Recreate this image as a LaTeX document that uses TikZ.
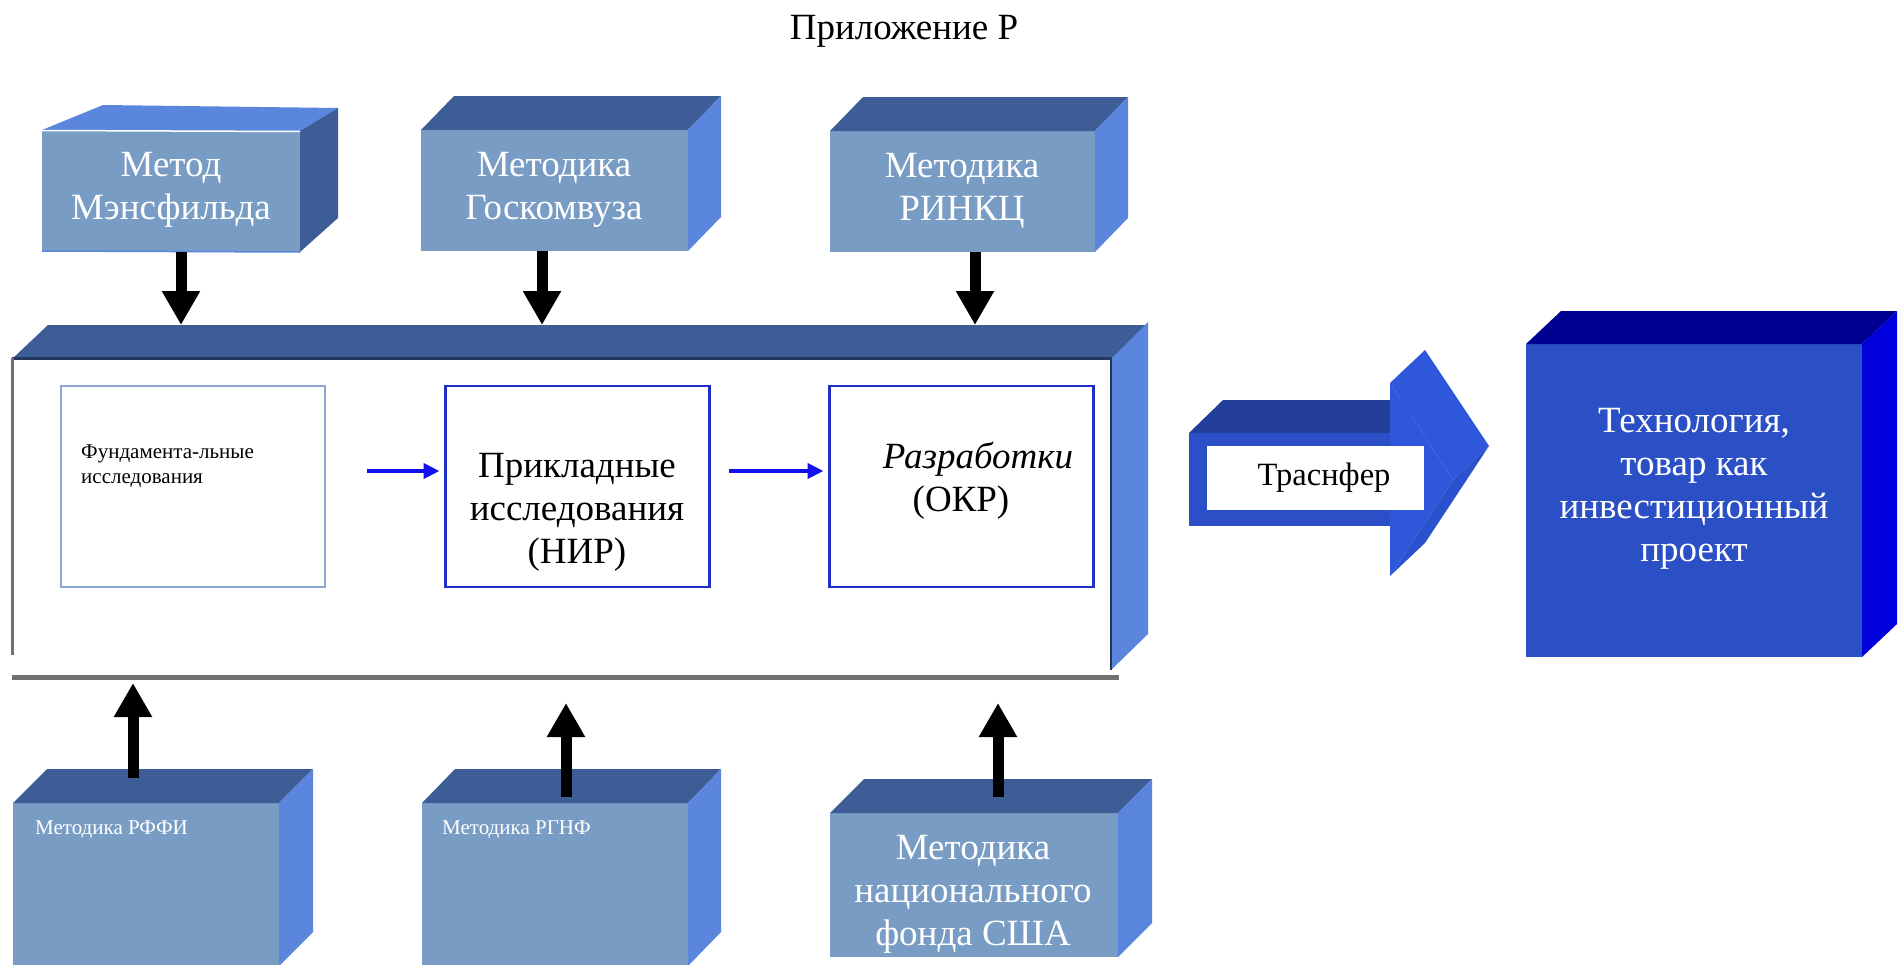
\documentclass[tikz,border=0pt]{standalone}
\usepackage{fontspec}
\setmainfont{Liberation Serif}
\usetikzlibrary{arrows.meta}
\definecolor{fr}{HTML}{789CC4}
\definecolor{tp}{HTML}{3E5D97}
\definecolor{sd}{HTML}{5A86DD}
\definecolor{edgedark}{HTML}{24375F}
\definecolor{framegray}{HTML}{707070}
\definecolor{innerlight}{HTML}{8EA5D6}
\definecolor{innerblue}{HTML}{1F2FC8}
\definecolor{flowblue}{HTML}{1010F0}
\definecolor{trfront}{HTML}{2B4FC6}
\definecolor{trtop}{HTML}{233E9A}
\definecolor{trhead}{HTML}{2E58D9}
\definecolor{trlow}{HTML}{2A52CF}
\definecolor{gfront}{HTML}{2B4FC5}
\definecolor{gtop}{HTML}{000090}
\definecolor{gside}{HTML}{0000DC}
\newcommand\bigf{\fontsize{37}{43}\selectfont}
\newcommand\smallf{\fontsize{21}{25}\selectfont}
\newcommand\cubefaces[5]{%
  \fill[#4] (#1.north west) -- ++(#2,-#3) -- ([shift={(#2,-#3)}]#1.north east) -- (#1.north east) -- cycle;
  \fill[#5] (#1.north east) -- ([shift={(#2,-#3)}]#1.north east) -- ([shift={(#2,-#3)}]#1.south east) -- (#1.south east) -- cycle;
}
\tikzset{
  frontbox/.style={fill=fr, inner sep=0pt, outer sep=0pt},
  whitetext/.style={text=white, font=\bigf, align=center, inner sep=0pt},
  blacktext/.style={text=black, font=\bigf, align=center, inner sep=0pt},
  innerbox/.style={fill=white, line width=2.5pt, inner sep=0pt, outer sep=0pt, minimum width=264pt, minimum height=201pt},
  blk/.style={line width=11pt, -{Triangle[length=34pt,width=36pt]}},
  flow/.style={flowblue, line width=4.5pt, -{Triangle[length=16pt,width=15pt]}},
}
\begin{document}
\begin{tikzpicture}[x=1pt,y=-1pt]
\useasboundingbox (0,0) rectangle (1903,964);
\clip (0,0) rectangle (1903,964);

% title
\node[font=\fontsize{37}{43}\selectfont, inner sep=0pt] (title) at (904,31) {Приложение Р};

% ---- top boxes
\node[frontbox, minimum width=258pt, minimum height=122pt] (boxA) at (171,191) {};
\fill[sd] (42,130) -- (103,105) -- (338,108) -- (300,131) -- cycle;
\fill[tp] (300,131) -- (338,108) -- (338,218) -- (300,252) -- cycle;
\draw[white, line width=1.5pt] (42,130.5) -- (300,131.5);
\draw[sd, line width=1.5pt] (42,251) -- (300,252);
\node[whitetext] (tA) at (171,190) {Метод\\Мэнсфильда};

\node[frontbox, minimum width=267pt, minimum height=121pt] (boxB) at (554.5,190.5) {};
\cubefaces{boxB}{33}{34}{tp}{sd}
\node[whitetext] (tB) at (554,190) {Методика\\Госкомвуза};

\node[frontbox, minimum width=265pt, minimum height=121pt] (boxC) at (962.5,191.5) {};
\cubefaces{boxC}{33}{34}{tp}{sd}
\node[whitetext] (tC) at (962,191) {Методика\\РИНКЦ};

% ---- main frame
\node[fill=white, inner sep=0pt, outer sep=0pt, minimum width=1099pt, minimum height=311pt] (frame) at (561.5,514.5) {};
\fill[tp] (12,359) -- (48,325) -- (1148,325) -- (1111,359) -- cycle;
\fill[sd] (1111,359) -- (1148,322) -- (1148,634) -- (1111,670) -- cycle;
\draw[edgedark, line width=3pt] (12,358) -- (1111,358);
\draw[edgedark, line width=2.5pt] (1111,358) -- (1111,670);
\draw[framegray, line width=3pt] (12,358) -- (12,655);
\draw[framegray, line width=5pt] (12,677) -- (1119,677);
\coordinate (bartop) at (0,325);

% inner boxes
\node[innerbox, draw=innerlight] (in1) at (193,486.5) {};
\node[innerbox, draw=innerblue] (in2) at (577.5,486.5) {};
\node[innerbox, draw=innerblue] (in3) at (961.5,486.5) {};
\node[font=\smallf, align=left, inner sep=0pt, anchor=north west] (t1) at (81,445) {Фундамента-льные\\исследования};
\node[blacktext] (t2) at (577,512) {Прикладные\\исследования\\(НИР)};
\node[blacktext] (t3) at (961,481) {\hspace*{34pt}\textit{Разработки}\\(ОКР)};
\draw[flow] (367,471) -- ([xshift=-6pt]in2.west |- 0,471);
\draw[flow] (729,471) -- ([xshift=-6pt]in3.west |- 0,471);

% top arrows
\draw[blk] ([xshift=10pt]boxA.south) -- ([xshift=10pt]boxA.south |- bartop);
\draw[blk] ([xshift=-12.5pt]boxB.south) -- ([xshift=-12.5pt]boxB.south |- bartop);
\draw[blk] ([xshift=12.5pt]boxC.south) -- ([xshift=12.5pt]boxC.south |- bartop);

% ---- bottom boxes
\node[frontbox, minimum width=266pt, minimum height=163pt] (boxD) at (146,884.5) {};
\cubefaces{boxD}{34}{34}{tp}{sd}
\node[font=\smallf, text=white, inner sep=0pt, anchor=base west] (tD) at (35,834) {Методика РФФИ};

\node[frontbox, minimum width=266pt, minimum height=163pt] (boxE) at (555,884.5) {};
\cubefaces{boxE}{33}{34}{tp}{sd}
\node[font=\smallf, text=white, inner sep=0pt, anchor=base west] (tE) at (442,834) {Методика РГНФ};

\node[frontbox, minimum width=288pt, minimum height=144pt] (boxF) at (974,885) {};
\cubefaces{boxF}{34}{34}{tp}{sd}
\node[whitetext] (tF) at (973,894) {Методика\\национального\\фонда США};

\coordinate (lowtipA) at (0,683);
\coordinate (lowtipB) at (0,703);
\draw[blk] ([shift={(-13,-25)}]boxD.north) -- ([xshift=-13pt]boxD.north |- lowtipA);
\draw[blk] ([shift={(11,-6)}]boxE.north) -- ([xshift=11pt]boxE.north |- lowtipB);
\draw[blk] ([shift={(24,-16)}]boxF.north) -- ([xshift=24pt]boxF.north |- lowtipB);

% ---- transfer arrow
\fill[trtop] (1189,433) -- (1223,400) -- (1424,400) -- (1390,433) -- cycle;
\fill[trhead] (1390,383) -- (1425,350) -- (1489,446) -- (1453,480) -- cycle;
\fill[trlow] (1453,480) -- (1489,446) -- (1425,543) -- (1390,576) -- cycle;
\fill[trfront] (1189,433) -- (1390,433) -- (1390,526) -- (1189,526) -- cycle;
\fill[trhead] (1390,383) -- (1453,480) -- (1390,576) -- cycle;
\node[fill=white, inner sep=0pt, outer sep=0pt, minimum width=217pt, minimum height=64pt] (lbl) at (1315.5,478) {};
\node[font=\fontsize{32.5}{38}\selectfont, inner sep=0pt] (tT) at (1324,478) {Траснфер};

% ---- result box
\node[fill=gfront, inner sep=0pt, outer sep=0pt, minimum width=336pt, minimum height=313pt] (boxG) at (1694,500.5) {};
\cubefaces{boxG}{35}{33}{gtop}{gside}
\node[whitetext] (tG) at (1694,489) {Технология,\\товар как\\инвестиционный\\проект};
\end{tikzpicture}
\end{document}
